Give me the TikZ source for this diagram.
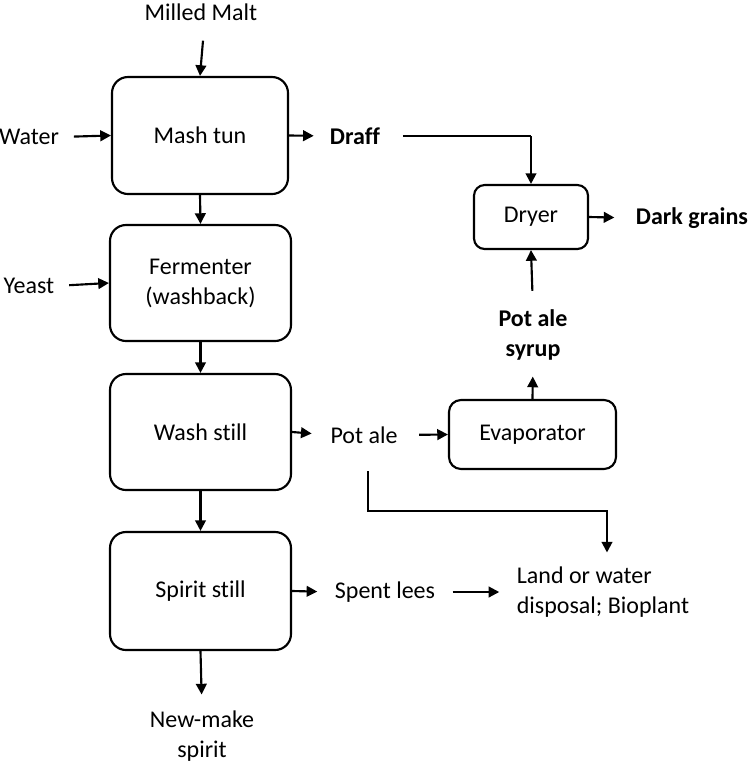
\documentclass[tikz,border=0pt]{standalone}
\usepackage{fontspec}
\setmainfont[Ligatures={NoCommon}]{Carlito}
\usetikzlibrary{arrows.meta}
\begin{document}
\begin{tikzpicture}[x=0.75pt,y=-0.75pt,
  every node/.style={font=\fontsize{18}{22.5}\selectfont,align=center,inner sep=0pt},
  unit/.style={draw,line width=1.6pt,rounded corners=12pt},
  lbl/.style={},
  blbl/.style={font=\fontsize{18}{22.5}\selectfont\bfseries},
  arr/.style={line width=1.6pt,-{Triangle[length=8pt,width=8pt]}},
  ln/.style={line width=1.6pt}]
\useasboundingbox (0,0) rectangle (750,769);
% units
\node[unit,minimum width=132pt,minimum height=87.75pt] (mash) at (200,135.5) {Mash tun};
\node[unit,minimum width=135.75pt,minimum height=87pt] (ferm) at (200.5,283) {Fermenter\\(washback)};
\node[unit,minimum width=135.75pt,minimum height=87pt] (wash) at (200.5,432) {Wash still};
\node[unit,minimum width=135.75pt,minimum height=88.5pt] (spirit) at (200.5,591) {Spirit still};
\node[unit,rounded corners=8pt,minimum width=85.5pt,minimum height=48pt] (dryer) at (531,217) {Dryer};
\node[unit,rounded corners=9pt,minimum width=125.25pt,minimum height=51.75pt] (evap) at (532.5,434.5) {Evaporator};
% labels
\node[lbl] (malt) at (201,12) {Milled Malt};
\node[lbl] (water) at (29,137) {Water};
\node[lbl] (yeast) at (29,286) {Yeast};
\node[blbl] (draff) at (355,136) {Draff};
\node[blbl] (dark) at (692,218) {Dark grains};
\node[blbl] (syrup) at (533,335) {Pot ale\\syrup};
\node[lbl] (potale) at (364,435) {Pot ale};
\node[lbl] (lees) at (385,592) {Spent lees};
\node[lbl,align=left] (land) at (603,592) {Land or water\\disposal; Bioplant};
\node[lbl] (newmake) at (202,736) {New-make\\spirit};
% connectors
\draw[arr] ([xshift=1.5pt]malt.south) ++(0,20) -- (mash.north);
\draw[arr,shorten <=11pt] (water.east) -- (mash.west);
\draw[arr,shorten >=12pt] (mash.east) -- (draff.west);
\draw[ln,shorten <=17pt] (draff.east) -- (dryer.north |- draff.east) coordinate (dk);
\draw[arr] (dk) -- (dryer.north);
\draw[arr,shorten >=16pt] (dryer.east) -- (dark.west);
\draw[arr,shorten <=14pt] (syrup.north) -- (dryer.south);
\draw[arr,shorten >=12pt] (evap.north) -- (syrup.south);
\draw[arr] (mash.south) -- (ferm.north);
\draw[arr,shorten <=11pt] (yeast.east) -- (ferm.west);
\draw[arr] (ferm.south) -- (wash.north);
\draw[arr,shorten >=14pt] (wash.east) -- (potale.west);
\draw[arr,shorten <=16pt] (potale.east) -- (evap.west);
\draw[arr,shorten >=10.5pt] (368,471) coordinate (pa1) -- (pa1 |- 0,511) -| ([xshift=3pt]land.north);
\draw[arr] (wash.south) -- (spirit.north);
\draw[arr,shorten >=13pt] (spirit.east) -- (lees.west);
\draw[arr,shorten <=13pt,shorten >=13pt] (lees.east) -- (land.west |- lees.east);
\draw[arr,shorten >=12pt] (spirit.south) -- (newmake.north);
\end{tikzpicture}
\end{document}
